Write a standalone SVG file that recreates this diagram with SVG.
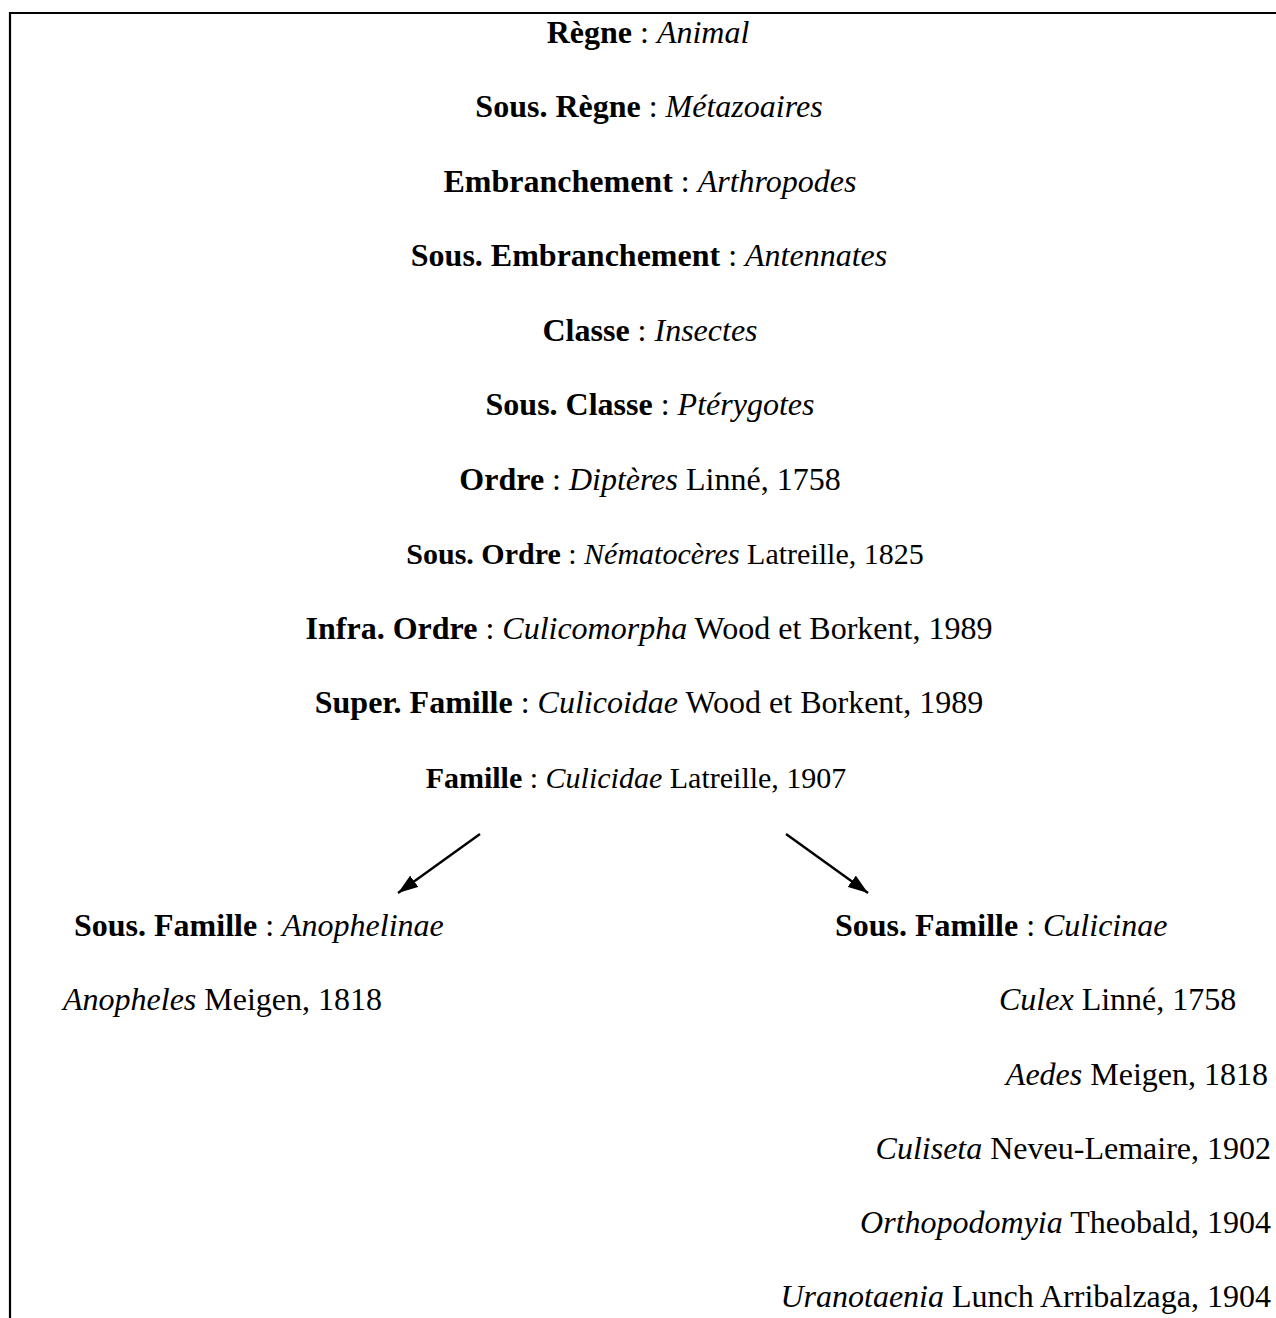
<svg xmlns="http://www.w3.org/2000/svg" width="1276" height="1318" viewBox="0 0 1276 1318">
<style>
text{font-family:"Liberation Serif","Times New Roman",serif;font-size:32px;fill:#000}
.s{font-size:30px}
.c{text-anchor:middle}
.r{text-anchor:end}
.b{font-weight:bold}
.i{font-style:italic}
.frame{stroke:#000;stroke-width:2.2;fill:none}
.conn{stroke:#000;stroke-width:2.4;fill:none}
</style>
<defs>
<marker id="arrow" viewBox="0 0 20 14" refX="20" refY="7" markerWidth="20" markerHeight="14" markerUnits="userSpaceOnUse" orient="auto">
<path d="M0,0 L20,7 L0,14 Z" fill="#000"/>
</marker>
</defs>
<rect x="0" y="0" width="1276" height="1318" fill="#fff"/>
<path class="frame" d="M10,1318 V13 H1276"/>
<g id="regne"><text class="c" x="648" y="43"><tspan class="b">Règne</tspan> : <tspan class="i">Animal</tspan></text></g>
<g id="sous-regne"><text class="c" x="649" y="117"><tspan class="b">Sous. Règne</tspan> : <tspan class="i">Métazoaires</tspan></text></g>
<g id="embranchement"><text class="c" x="650" y="192"><tspan class="b">Embranchement</tspan> : <tspan class="i">Arthropodes</tspan></text></g>
<g id="sous-embranchement"><text class="c" x="649" y="266"><tspan class="b">Sous. Embranchement</tspan> : <tspan class="i">Antennates</tspan></text></g>
<g id="classe"><text class="c" x="650" y="341"><tspan class="b">Classe</tspan> : <tspan class="i">Insectes</tspan></text></g>
<g id="sous-classe"><text class="c" x="650" y="415"><tspan class="b">Sous. Classe</tspan> : <tspan class="i">Ptérygotes</tspan></text></g>
<g id="ordre"><text class="c" x="650" y="490"><tspan class="b">Ordre</tspan> : <tspan class="i">Diptères</tspan> Linné, 1758</text></g>
<g id="sous-ordre"><text class="c s" x="665" y="564"><tspan class="b">Sous. Ordre</tspan> : <tspan class="i">Nématocères</tspan> Latreille, 1825</text></g>
<g id="infra-ordre"><text class="c" x="649" y="639"><tspan class="b">Infra. Ordre</tspan> : <tspan class="i">Culicomorpha</tspan> Wood et Borkent, 1989</text></g>
<g id="super-famille"><text class="c" x="649" y="713"><tspan class="b">Super. Famille</tspan> : <tspan class="i">Culicoidae</tspan> Wood et Borkent, 1989</text></g>
<g id="famille"><text class="c s" x="636" y="788"><tspan class="b">Famille</tspan> : <tspan class="i">Culicidae</tspan> Latreille, 1907</text></g>
<g id="anophelinae">
<text x="74" y="936"><tspan class="b">Sous. Famille</tspan> : <tspan class="i">Anophelinae</tspan></text>
<text x="63" y="1010"><tspan class="i">Anopheles</tspan> Meigen, 1818</text>
</g>
<g id="culicinae">
<text x="835" y="936"><tspan class="b">Sous. Famille</tspan> : <tspan class="i">Culicinae</tspan></text>
<text x="999" y="1010"><tspan class="i">Culex</tspan> Linné, 1758</text>
<text class="r" x="1268" y="1085"><tspan class="i">Aedes</tspan> Meigen, 1818</text>
<text class="r" x="1271" y="1159"><tspan class="i">Culiseta</tspan> Neveu-Lemaire, 1902</text>
<text class="r" x="1271" y="1233"><tspan class="i">Orthopodomyia</tspan> Theobald, 1904</text>
<text class="r" x="1271" y="1307"><tspan class="i">Uranotaenia</tspan> Lunch Arribalzaga, 1904</text>
</g>
<g id="connectors">
<line class="conn" x1="480" y1="834" x2="398" y2="893" marker-end="url(#arrow)"/>
<line class="conn" x1="786" y1="834" x2="868" y2="893" marker-end="url(#arrow)"/>
</g>
</svg>
